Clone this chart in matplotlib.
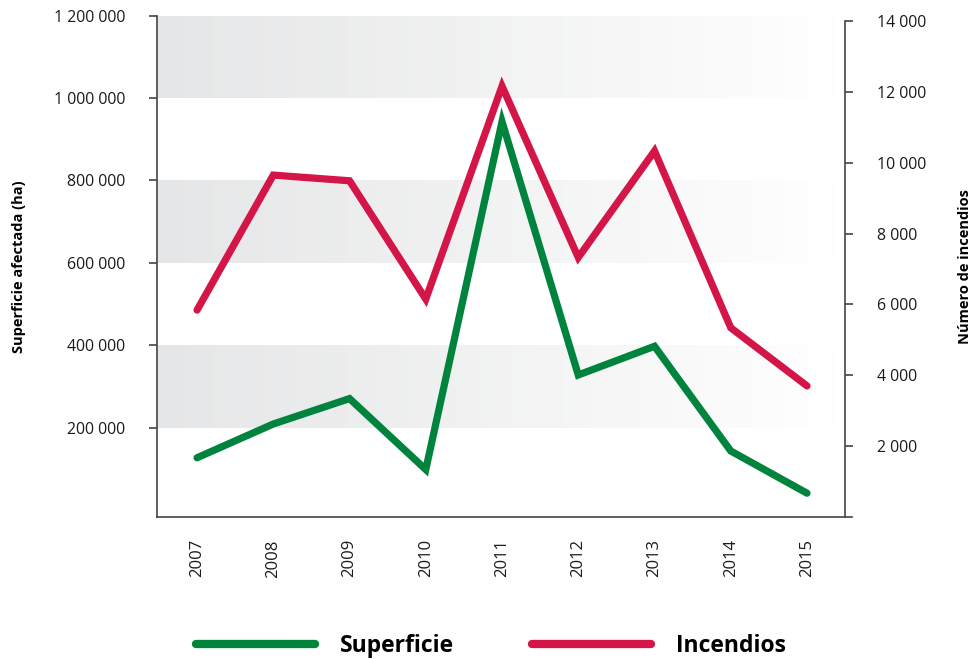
import numpy as np
import matplotlib.pyplot as plt

plt.rcParams['font.family'] = ['Open Sans', 'DejaVu Sans']

years = ['2007', '2008', '2009', '2010', '2011', '2012', '2013', '2014', '2015']
superficie = [127800, 209700, 271300, 99200, 942800, 328500, 398100, 144200, 41900]
incendios = [5840, 9650, 9490, 6150, 12160, 7325, 10330, 5340, 3700]

left_ticks = [200000, 400000, 600000, 800000, 1000000, 1200000]
right_ticks = [2000, 4000, 6000, 8000, 10000, 12000, 14000]
bands = [(200000, 400000), (600000, 800000), (1000000, 1200000)]

green = '#00843D'
red = '#D31548'
axis_col = '#444444'
text_col = '#1a1a1a'


def fmt(v):
    return f'{v:,}'.replace(',', ' ')


fig = plt.figure(figsize=(9.75, 6.59), dpi=100)
ax = fig.add_axes([157 / 975, 1 - 517 / 659, (852 - 157) / 975, (517 - 15.5) / 659])
ax2 = ax.twinx()

x = np.arange(len(years))
xlim = (-0.525, 8.59)
ylim = (-15800, 1200000)

# gray bands fading to white towards the right
grad = np.linspace(0, 1, 256).reshape(1, -1)
cmap = plt.matplotlib.colors.LinearSegmentedColormap.from_list('g', ['#E5E6E7', '#FFFFFF'])
for lo, hi in bands:
    ax.imshow(grad, cmap=cmap, aspect='auto', extent=(xlim[0], 8.37, lo, hi),
              zorder=0, interpolation='bicubic')
ax.set_xlim(*xlim)
ax.set_ylim(*ylim)

ax.plot(x, superficie, color=green, lw=5.2, solid_capstyle='round',
        solid_joinstyle='miter', zorder=3, label='Superficie')
ax2.plot(x, incendios, color=red, lw=5.2, solid_capstyle='round',
         solid_joinstyle='miter', zorder=3, label='Incendios')
ax2.set_ylim(0, 14155)

# spines
ax.spines['top'].set_visible(False)
ax2.spines['top'].set_visible(False)
ax.spines['right'].set_visible(False)
ax2.spines['left'].set_visible(False)
ax2.spines['bottom'].set_visible(False)
for sp in [ax.spines['left'], ax.spines['bottom'], ax2.spines['right']]:
    sp.set_color(axis_col)
    sp.set_linewidth(1.2)
ax2.spines['right'].set_position(('axes', (845 - 157) / (852 - 157)))
ax2.spines['right'].set_bounds(0, 14000)

ax.set_yticks(left_ticks)
ax.set_yticklabels([fmt(v) for v in left_ticks], fontsize=11.4, color=text_col)
ax.tick_params(axis='y', length=6, width=1.2, color=axis_col, pad=17)
ax2.set_yticks(right_ticks)
ax2.set_yticklabels([fmt(v) for v in right_ticks], fontsize=11.4, color=text_col)
ax2.tick_params(axis='y', length=6, width=1.2, color=axis_col, pad=17)

ax.set_xticks(x)
ax.set_xticklabels(years, rotation=90, fontsize=12, color=text_col)
ax.tick_params(axis='x', length=0, pad=16)

ax.set_ylabel('Superficie afectada (ha)', fontsize=10.5, fontweight='bold')
ax.yaxis.set_label_coords((26 - 157) / 695, 0.5)
ax2.set_ylabel('Número de incendios', fontsize=10.5, fontweight='bold')
ax2.yaxis.set_label_coords((958 - 157) / 695, 0.5)

h1, l1 = ax.get_legend_handles_labels()
h2, l2 = ax2.get_legend_handles_labels()
leg = fig.legend(h1 + h2, l1 + l2, loc='center', bbox_to_anchor=(491 / 975, 1 - 646 / 659),
                 ncol=2, frameon=False, handlelength=5.2, handletextpad=1.1,
                 columnspacing=3.4, prop={'size': 16.5, 'weight': 'bold'})
for line in leg.get_lines():
    line.set_linewidth(6)

fig.savefig('out.png', dpi=100)
